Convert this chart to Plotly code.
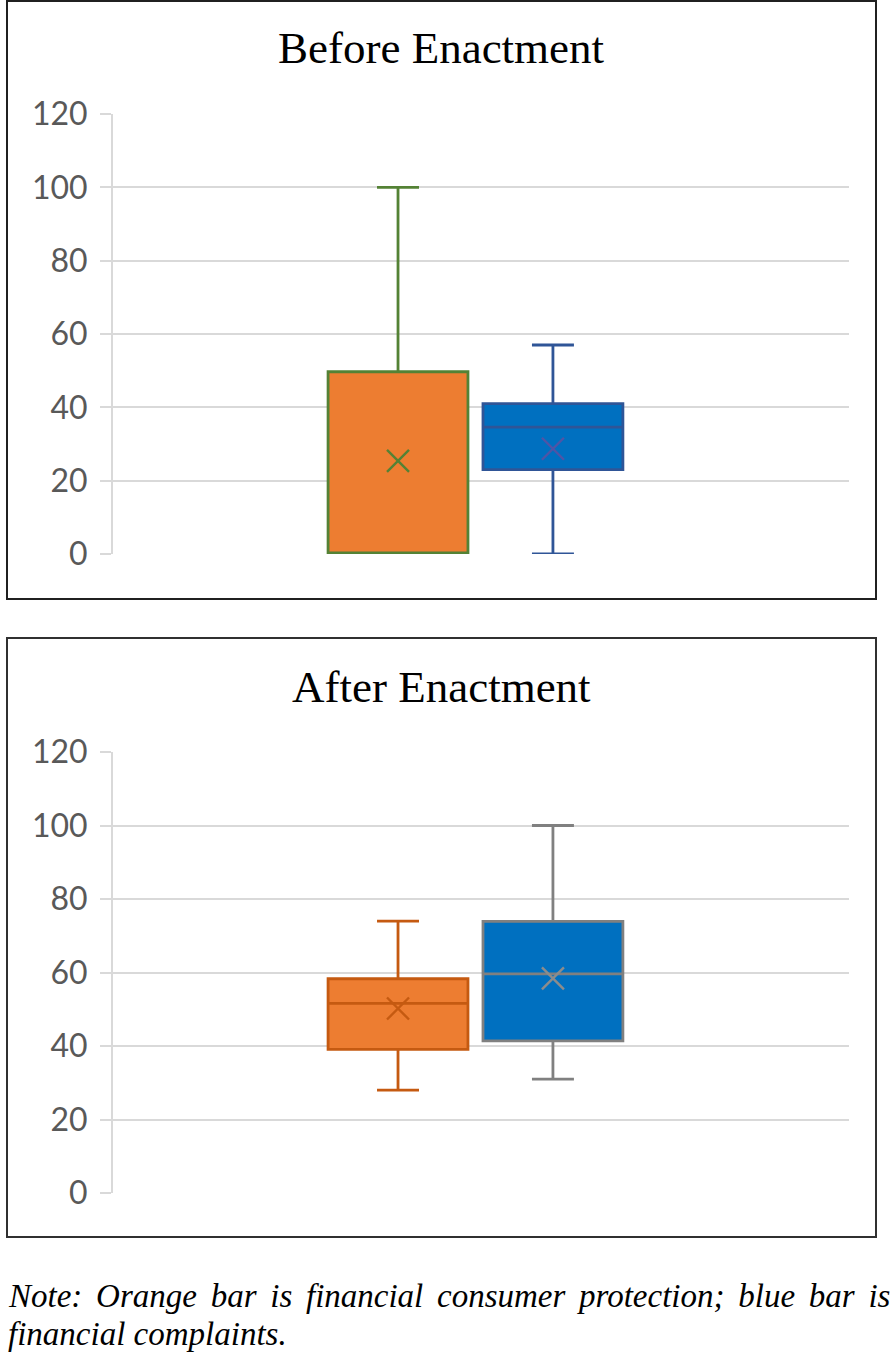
import plotly.graph_objects as go
from plotly.subplots import make_subplots

# ---- data ----
category = ["All"]
series_names = ["Financial consumer protection", "Financial complaints"]

before_q1 = [0, 23]
before_median = [0, 34.6]
before_q3 = [49.7, 41]
before_low = [0, 0]
before_high = [100, 57]
before_mean = [25.4, 28.7]

after_q1 = [39.1, 41.4]
after_median = [51.6, 59.6]
after_q3 = [58.3, 73.9]
after_low = [28, 31]
after_high = [74, 100]
after_mean = [50.2, 58.4]

y_ticks = [0, 20, 40, 60, 80, 100, 120]

note_line1 = "Note: Orange bar is financial consumer protection; blue bar is"
note_line2 = "financial complaints."

# ---- styles ----
W, H = 891, 1356
fills = ["#ED7D31", "#0070C0"]
before_lines = ["#548235", "#2F5597"]
before_mean_col = ["#548235", "#4F55A6"]
after_lines = ["#C55A11", "#808080"]
after_mean_col = ["#C55A11", "#8C8C8C"]

fig = make_subplots(rows=2, cols=1)

def add_panel(row, q1, med, q3, lo, hi, mean, lines, mcols):
    for i in range(2):
        fig.add_trace(go.Box(
            x=category, q1=[q1[i]], median=[med[i]], q3=[q3[i]],
            lowerfence=[lo[i]], upperfence=[hi[i]],
            name=series_names[i], offsetgroup=str(i),
            fillcolor=fills[i], line=dict(color=lines[i], width=2.8),
            whiskerwidth=0.3, boxpoints=False, showlegend=False,
            hoverinfo="skip"), row=row, col=1)
    for i in range(2):
        fig.add_trace(go.Scatter(
            x=category, y=[mean[i]], mode="markers", offsetgroup=str(i),
            orientation="v",
            marker=dict(symbol="x-thin-open", size=22, color=mcols[i],
                        line=dict(color=mcols[i], width=2.4)),
            showlegend=False, hoverinfo="skip"), row=row, col=1)

add_panel(1, before_q1, before_median, before_q3, before_low, before_high,
          before_mean, before_lines, before_mean_col)
add_panel(2, after_q1, after_median, after_q3, after_low, after_high,
          after_mean, after_lines, after_mean_col)

def px_y(p):
    return 1 - p / H

xdom = [113 / W, 849 / W]
fig.update_layout(
    width=W, height=H,
    margin=dict(l=0, r=0, t=0, b=0, autoexpand=False),
    paper_bgcolor="white", plot_bgcolor="white",
    boxmode="group", boxgap=0.579, boxgroupgap=0.097,
    scattermode="group", scattergap=0.579,
    xaxis=dict(domain=xdom, anchor="y"),
    xaxis2=dict(domain=xdom, anchor="y2"),
    yaxis=dict(domain=[px_y(554), px_y(114)], anchor="x"),
    yaxis2=dict(domain=[px_y(1193), px_y(752)], anchor="x2"),
)
fig.update_xaxes(type="category", range=[-0.4925, 0.5075], showticklabels=False,
                 showgrid=False, zeroline=False, showline=False, ticks="")
fig.update_yaxes(range=[0, 120], tickvals=y_ticks, showgrid=True,
                 gridcolor="#D9D9D9", gridwidth=2, zeroline=False,
                 showline=True, linecolor="#D9D9D9", linewidth=2,
                 ticks="outside", ticklen=11, tickcolor="#D9D9D9", tickwidth=2,
                 ticklabelstandoff=6,
                 tickfont=dict(family="Lato", size=32, color="#595959"))

# panel borders
for top, bot, col in [(1, 599, "#202020"), (638, 1237, "#303030")]:
    fig.add_shape(type="rect", xref="paper", yref="paper",
                  x0=7 / W, x1=876 / W, y0=px_y(bot), y1=px_y(top),
                  line=dict(color=col, width=2), fillcolor="rgba(0,0,0,0)",
                  layer="above")

# titles
for txt, yc in [("Before Enactment", 48), ("After Enactment", 687)]:
    fig.add_annotation(text=txt, xref="paper", yref="paper", x=441 / W,
                       y=px_y(yc), xanchor="center", yanchor="middle",
                       showarrow=False,
                       font=dict(family="Liberation Serif", size=45, color="black"))

# note (first line justified by widening the word gaps)
note_font = dict(family="Liberation Serif", size=33, color="black")
justified1 = note_line1.replace(" ", " \u2006")
fig.add_annotation(text="<i>" + justified1 + "</i>", xref="paper", yref="paper",
                   x=6 / W, y=px_y(1296), xanchor="left", yanchor="middle",
                   showarrow=False, font=note_font)
fig.add_annotation(text="<i>" + note_line2 + "</i>", xref="paper", yref="paper",
                   x=6 / W, y=px_y(1334), xanchor="left", yanchor="middle",
                   showarrow=False, font=note_font)

fig.write_html("out.html", config={"displayModeBar": False},
               post_script="document.body.style.margin='0';")
